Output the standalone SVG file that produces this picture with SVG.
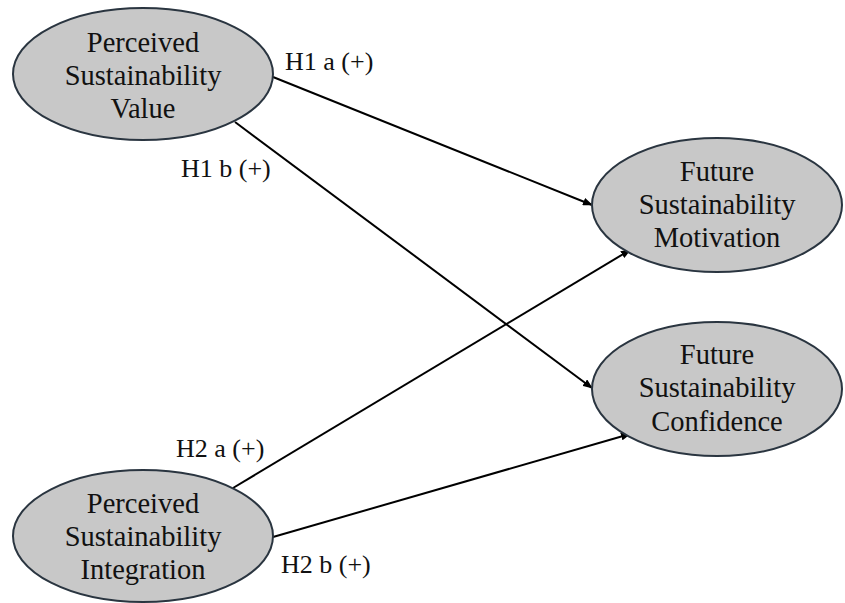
<svg xmlns="http://www.w3.org/2000/svg" width="845" height="603" viewBox="0 0 845 603">
<defs>
<marker id="arr" markerWidth="10" markerHeight="8" refX="9" refY="4" orient="auto" markerUnits="userSpaceOnUse">
<path d="M0,0 L10,4 L0,8 Z" fill="#000"/>
</marker>
<style>
.node ellipse { fill: #c8c8c8; stroke: #2a3540; stroke-width: 2; }
.node text { font-family: "Liberation Serif", "Times New Roman", serif; font-size: 28.5px; fill: #111; text-anchor: middle; }
.lbl { font-family: "Liberation Serif", "Times New Roman", serif; font-size: 26px; fill: #111; }
.edge { stroke: #000; stroke-width: 2; fill: none; marker-end: url(#arr); }
</style>
</defs>
<rect width="845" height="603" fill="#fff"/>
<g id="connectors">
<line class="edge" x1="273" y1="77" x2="592" y2="205"/>
<line class="edge" x1="235" y1="122" x2="592" y2="388"/>
<line class="edge" x1="233" y1="488" x2="630" y2="250"/>
<line class="edge" x1="273" y1="537" x2="630" y2="434"/>
</g>
<g id="labels">
<text class="lbl" x="285" y="70">H1 a (+)</text>
<text class="lbl" x="181" y="177">H1 b (+)</text>
<text class="lbl" x="176" y="457">H2 a (+)</text>
<text class="lbl" x="281" y="573">H2 b (+)</text>
</g>
<g id="psv" class="node">
<ellipse cx="143" cy="74" rx="130" ry="66"/>
<text x="143" y="52">Perceived</text>
<text x="143" y="85">Sustainability</text>
<text x="143" y="118">Value</text>
</g>
<g id="psi" class="node">
<ellipse cx="143" cy="536" rx="130" ry="66"/>
<text x="143" y="513">Perceived</text>
<text x="143" y="546">Sustainability</text>
<text x="143" y="579">Integration</text>
</g>
<g id="fsm" class="node">
<ellipse cx="717" cy="205" rx="125" ry="67"/>
<text x="717" y="181">Future</text>
<text x="717" y="214">Sustainability</text>
<text x="717" y="247">Motivation</text>
</g>
<g id="fsc" class="node">
<ellipse cx="717" cy="389" rx="125" ry="67"/>
<text x="717" y="364">Future</text>
<text x="717" y="397">Sustainability</text>
<text x="717" y="431">Confidence</text>
</g>
</svg>
